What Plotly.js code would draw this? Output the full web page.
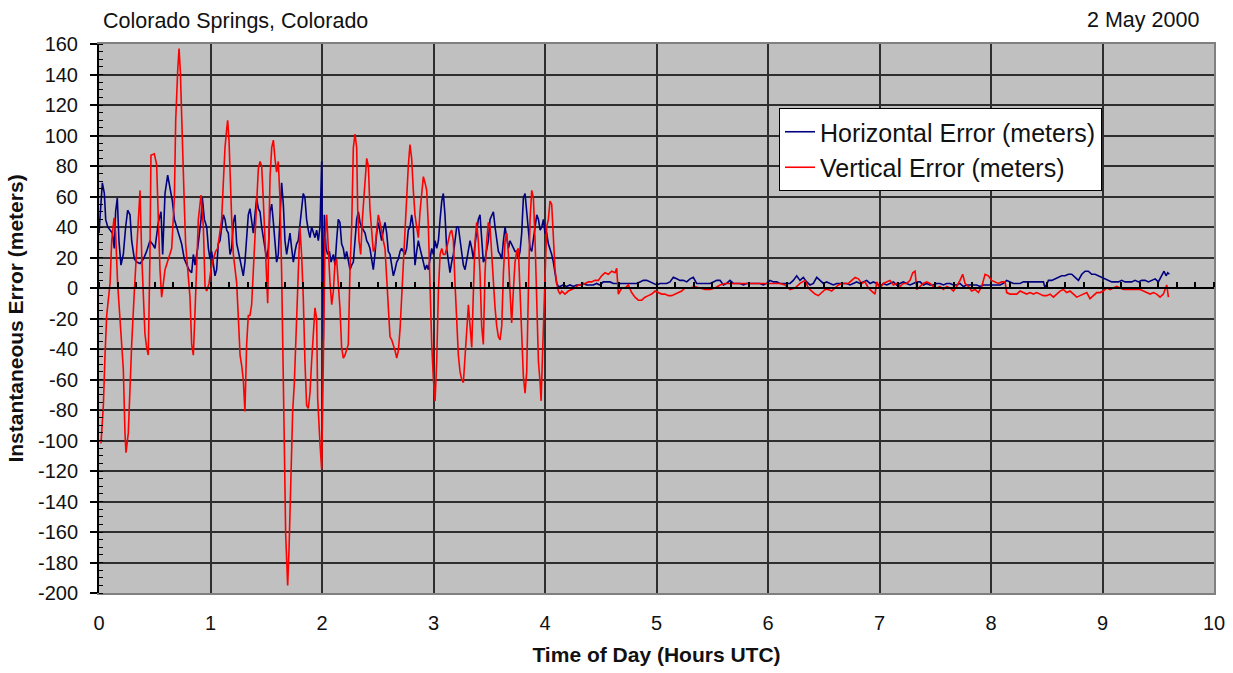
<!DOCTYPE html>
<html>
<head>
<meta charset="utf-8">
<script src="https://cdn.plot.ly/plotly-3.0.1.min.js"></script>
<style>html,body{margin:0;padding:0;background:#fff;}#chart{width:1233px;height:673px;}</style>
</head>
<body>
<div id="chart"></div>
<script>
// Horizontal error (meters) vs time (hours UTC)
const hTime = [0.000,0.030,0.048,0.060,0.078,0.099,0.120,0.137,0.149,0.164,0.179,0.197,0.218,0.239,0.257,0.278,0.293,0.317,0.338,0.368,0.398,0.427,0.457,0.487,0.502,0.532,0.556,0.571,0.592,0.616,0.637,0.658,0.676,0.697,0.718,0.741,0.765,0.786,0.807,0.831,0.846,0.861,0.885,0.915,0.927,0.945,
0.966,0.981,0.996,1.010,1.025,1.040,1.055,1.070,1.085,1.100,1.115,1.130,1.145,1.160,1.175,1.190,1.205,1.220,1.235,1.250,1.265,1.280,1.294,1.309,1.324,1.339,1.354,1.369,1.384,1.399,1.414,1.429,1.444,1.459,1.474,1.489,1.504,1.519,1.534,1.549,1.564,1.578,1.593,1.608,1.623,1.638,1.653,1.668,1.683,1.698,1.713,1.728,1.743,1.758,1.772,1.787,1.802,1.817,1.832,1.847,1.862,1.877,1.892,1.907,1.922,1.937,1.952,1.967,1.982,1.997,
2.012,2.021,2.036,2.051,2.066,2.081,2.102,2.117,2.131,2.146,2.161,2.176,2.191,2.206,2.221,2.236,2.251,2.266,2.281,2.296,2.311,2.326,2.341,2.356,2.371,2.386,2.401,2.416,2.430,2.445,2.460,2.475,2.490,2.505,2.520,2.535,2.550,2.565,2.580,2.595,2.610,2.625,2.640,2.655,2.670,2.685,2.700,2.714,2.729,2.744,2.759,2.774,2.789,2.804,2.819,2.834,2.849,2.864,2.879,2.894,2.909,
2.924,2.939,2.954,2.969,2.984,2.999,3.014,3.029,3.044,3.059,3.074,3.088,3.103,3.118,3.133,3.148,3.163,3.178,3.193,3.208,3.223,3.238,3.253,3.268,3.283,3.298,3.313,3.328,3.343,3.358,3.373,3.387,3.402,3.417,3.432,3.447,3.462,3.477,3.492,3.507,3.522,3.537,3.552,3.567,3.582,3.597,3.612,3.627,3.642,3.657,3.672,3.686,3.701,3.716,3.731,3.746,3.761,3.776,3.791,3.806,3.821,3.836,3.851,3.866,3.881,3.896,3.911,3.926,3.941,3.956,3.971,3.986,4.000,4.015,4.030,4.045,4.060,4.075,4.090,4.105,4.120,
4.134,4.164,4.194,4.224,4.254,4.284,4.314,4.344,4.374,4.404,4.433,4.463,4.493,4.523,4.553,4.583,4.613,4.643,4.673,4.703,4.732,4.762,4.792,4.822,4.852,4.882,4.912,4.942,4.972,5.002,5.031,5.061,5.091,5.121,5.151,5.181,5.211,5.241,5.271,5.301,5.330,5.360,5.390,5.420,5.450,5.480,5.510,5.540,5.570,5.600,5.629,5.659,5.689,5.719,5.749,5.779,5.809,5.839,5.869,5.898,5.928,5.958,5.988,6.018,6.048,6.078,6.108,6.138,6.168,6.197,6.227,6.257,6.287,6.317,6.347,6.377,6.407,6.437,6.467,6.496,6.526,6.556,6.586,6.616,6.646,6.676,6.706,6.736,6.766,6.795,6.825,6.855,6.885,6.915,
6.945,6.975,7.005,7.035,7.065,7.094,7.124,7.154,7.184,7.214,7.244,7.274,7.304,7.334,7.364,7.393,7.423,7.453,7.483,7.513,7.543,7.573,7.603,7.633,7.663,7.692,7.722,7.752,7.782,7.812,7.842,7.871,7.901,7.931,7.961,7.991,8.021,8.051,8.081,8.111,8.141,8.171,8.201,8.231,8.261,8.290,8.320,8.350,8.380,8.410,8.440,8.470,8.485,8.515,8.545,8.574,8.604,8.634,8.664,8.694,8.724,8.754,8.784,8.814,8.844,8.873,8.903,8.933,8.963,8.993,9.023,9.053,9.083,9.113,9.143,9.172,9.202,9.232,9.262,9.292,9.322,9.352,9.382,9.412,9.442,9.472,9.501,9.531,9.552,9.570,9.585,9.600];
const hErr = [36,69,62,45,40,38,36,26,50,59,31,15,22,40,51,48,31,19,17,16,19,24,31,28,26,43,50,22,62,74,64,57,45,40,36,29,19,15,12,10,22,15,26,45,59,45,
40,26,19,24,15,8,12,29,31,40,48,45,38,36,22,26,43,48,29,24,19,12,8,17,31,48,52,45,36,48,59,52,50,40,31,26,19,26,50,55,43,31,17,22,52,69,55,31,22,31,36,26,17,24,29,31,40,50,62,59,45,38,33,40,36,33,38,31,40,83,
-34,48,26,22,24,17,22,15,31,45,43,29,26,19,24,17,12,15,17,31,45,50,43,40,38,36,31,29,26,19,12,22,36,43,38,31,38,43,36,24,22,15,8,12,17,19,24,26,24,22,26,38,40,48,40,15,24,31,26,22,17,
12,15,12,19,26,22,31,26,31,45,57,62,48,26,19,10,17,22,31,40,40,31,22,15,12,19,26,31,26,19,29,36,45,48,31,17,19,26,31,45,48,50,40,31,24,22,19,31,40,33,26,31,29,26,24,24,19,24,36,59,62,50,36,26,24,31,40,48,45,38,40,45,36,36,29,26,22,17,10,3,1,
1,2,1,2,1,2,2,3,2,2,2,3,2,4,4,4,3,3,3,3,3,3,3,3,4,5,5,4,3,2,3,3,3,4,7,6,5,5,4,6,7,3,3,3,3,3,4,5,5,2,3,5,3,3,3,2,3,3,3,3,3,2,3,5,4,4,3,3,3,3,5,8,5,7,4,2,3,7,5,3,4,3,2,3,3,3,3,2,3,4,3,4,5,3,
4,3,1,3,2,3,4,2,3,4,3,2,3,4,4,2,3,2,2,3,3,2,3,3,2,2,3,1,2,2,2,2,1,2,2,2,2,2,2,3,5,4,3,3,3,4,4,4,4,4,4,4,0,5,5,6,7,8,8,9,9,7,5,9,11,11,9,9,8,7,6,5,4,4,4,5,4,4,4,5,4,5,5,4,5,6,4,8,11,8,10,9];

// Vertical error (meters) vs time (hours UTC)
const vTime = [0.018,0.039,0.054,0.069,0.099,0.114,0.135,0.149,0.167,0.188,0.218,0.233,0.242,0.263,0.278,0.293,0.317,0.338,0.353,0.368,0.383,0.398,0.412,0.427,0.442,0.457,0.466,0.496,0.517,0.532,0.547,0.562,0.577,0.592,0.622,0.652,0.676,0.688,0.706,0.718,0.730,0.747,0.765,0.777,0.795,0.816,0.831,0.846,0.861,0.876,0.891,0.915,0.936,0.951,
0.966,0.987,1.004,1.025,1.046,1.064,1.085,1.100,1.115,1.130,1.145,1.154,1.166,1.178,1.190,1.205,1.220,1.235,1.250,1.265,1.280,1.294,1.309,1.324,1.339,1.354,1.369,1.384,1.399,1.414,1.429,1.444,1.459,1.474,1.489,1.504,1.513,1.519,1.534,1.549,1.564,1.578,1.593,1.608,1.623,1.638,1.653,1.662,1.674,1.692,1.704,1.722,1.737,1.752,1.764,1.781,1.802,1.817,1.832,1.847,1.862,1.877,1.892,1.907,1.922,1.937,1.952,
1.961,1.982,1.997,2.012,2.027,2.042,2.057,2.072,2.087,2.102,2.117,2.131,2.146,2.161,2.176,2.191,2.206,2.221,2.236,2.251,2.266,2.281,2.296,2.311,2.320,2.332,2.347,2.362,2.380,2.401,2.416,2.430,2.445,2.460,2.475,2.490,2.505,2.520,2.535,2.550,2.565,2.580,2.595,2.610,2.625,2.640,2.655,2.670,2.685,2.700,2.714,2.729,2.744,2.759,2.774,2.789,2.804,2.819,2.834,2.849,2.864,2.879,2.894,2.909,2.924,
2.939,2.954,2.969,2.984,2.999,3.014,3.029,3.044,3.059,3.074,3.088,3.103,3.118,3.133,3.148,3.163,3.178,3.193,3.208,3.223,3.238,3.253,3.268,3.283,3.298,3.313,3.328,3.343,3.358,3.373,3.387,3.402,3.417,3.432,3.447,3.462,3.477,3.492,3.507,3.522,3.537,3.552,3.567,3.582,3.597,3.612,3.627,3.642,3.657,3.672,3.686,3.701,3.716,3.731,3.746,3.761,3.776,3.791,3.806,3.821,3.836,3.851,3.866,3.881,3.896,3.911,3.926,3.941,3.956,3.965,3.976,3.988,4.000,4.015,4.030,4.045,4.060,4.075,4.090,4.105,4.120,4.135,4.150,
4.179,4.209,4.239,4.269,4.299,4.329,4.359,4.389,4.418,4.448,4.478,4.508,4.538,4.568,4.598,4.628,4.643,4.658,4.688,4.718,4.747,4.777,4.807,4.837,4.867,4.897,4.927,4.957,4.987,5.017,5.046,5.076,5.106,5.136,5.166,5.196,5.226,5.256,5.300,5.345,5.390,5.435,5.480,5.525,5.570,5.614,5.659,5.704,5.749,5.794,5.839,5.884,5.928,5.973,6.018,6.063,6.108,6.153,6.198,6.242,6.287,6.332,6.362,6.392,6.422,6.452,6.482,6.512,6.541,6.571,6.601,6.631,6.661,6.691,6.721,6.751,6.781,6.811,6.841,6.870,6.900,6.930,6.960,
6.975,7.005,7.035,7.065,7.094,7.124,7.154,7.184,7.214,7.244,7.274,7.298,7.319,7.334,7.364,7.393,7.423,7.453,7.483,7.513,7.543,7.573,7.603,7.633,7.663,7.692,7.722,7.746,7.767,7.797,7.827,7.857,7.887,7.917,7.947,7.976,8.006,8.036,8.066,8.096,8.126,8.141,8.171,8.231,8.261,8.290,8.320,8.350,8.380,8.410,8.440,8.470,8.500,8.530,8.560,8.589,8.619,8.649,8.679,8.709,8.739,8.769,8.799,8.829,8.859,8.888,8.918,8.948,8.978,9.008,9.038,9.068,9.098,9.128,9.158,9.187,9.217,9.247,9.277,9.307,9.337,9.367,9.397,9.427,9.457,9.486,9.516,9.546,9.561,9.576,9.591];
const vErr = [-102,-77,-44,-18,3,31,46,36,3,-20,-53,-95,-108,-95,-62,-37,-2,26,52,64,22,-6,-30,-39,-44,22,87,88,81,45,12,-6,3,12,19,26,59,110,143,157,141,92,55,29,15,-6,-37,-44,-16,17,45,61,40,1,
-2,3,12,19,24,26,36,45,69,92,104,110,97,69,45,22,12,3,-20,-44,-51,-60,-81,-37,-18,-18,-11,10,40,59,78,83,80,57,26,-2,-10,17,73,92,97,85,76,83,59,10,-48,-102,-161,-195,-172,-114,-81,-62,-37,-2,40,22,-6,-48,-77,-79,-69,-48,-32,-13,-20,
-72,-102,-119,-48,31,48,22,3,-11,-2,17,19,3,-13,-39,-46,-44,-41,-37,12,40,92,101,92,52,31,22,45,62,85,80,52,38,24,26,36,48,43,36,31,26,8,-16,-32,-34,-37,-41,-46,-41,-27,-6,17,31,57,80,94,85,64,48,40,33,50,64,73,69,
64,40,-2,-37,-60,-74,-48,-2,22,26,22,22,26,31,36,38,31,3,-25,-44,-55,-60,-62,-44,-30,-11,-25,-39,-2,31,43,31,10,-25,-37,10,31,43,40,22,-2,-13,-25,-32,-34,-25,10,31,36,22,-2,-23,-2,17,24,26,-2,-37,-58,-69,-55,-2,45,64,59,31,-2,-48,-62,-74,-48,-20,10,40,45,57,55,31,12,3,-2,-4,-2,
-4,-2,-1,0,2,2,3,4,4,5,5,8,10,9,11,10,13,-4,0,0,2,-3,-6,-8,-8,-6,-5,-4,-2,-3,-4,-4,-5,-5,-4,-3,-2,0,0,1,0,-1,-1,0,2,3,3,3,3,3,3,3,3,3,3,3,3,2,-1,0,3,5,0,-2,-4,-5,-3,-1,-1,-2,0,2,3,3,3,5,7,6,3,4,0,-2,-4,
4,0,3,4,5,2,3,1,3,3,5,10,11,-1,1,3,4,3,1,0,1,-1,1,0,-2,1,5,9,3,1,-2,-1,-3,1,9,8,5,4,3,4,4,-3,-4,-4,-2,-3,-4,-3,-4,-3,-4,-5,-5,-4,-6,-4,-2,-1,-3,-2,-4,-6,-5,-4,-3,-7,-5,-3,-3,-2,0,-1,0,1,0,-1,-1,-1,-1,-1,-1,-2,-3,-4,-3,-4,-6,-4,-1,2,-6];

const xTicks = [0,1,2,3,4,5,6,7,8,9,10];
const yTicks = [160,140,120,100,80,60,40,20,0,-20,-40,-60,-80,-100,-120,-140,-160,-180,-200];

const FONT = '"Liberation Sans", Arial, sans-serif';
const TXT = '#111';
const GRID = '#2e2e2e';

const traces = [
  {x: hTime, y: hErr, type: 'scatter', mode: 'lines', name: 'Horizontal Error (meters)',
   line: {color: '#000080', width: 1.6}, xaxis: 'x', yaxis: 'y', legendgroup: 'h'},
  {x: vTime, y: vErr, type: 'scatter', mode: 'lines', name: 'Vertical Error (meters)',
   line: {color: '#ff0000', width: 1.6}, xaxis: 'x2', yaxis: 'y2', legendgroup: 'v'}
];

const layout = {
  width: 1233, height: 673,
  margin: {l: 99, r: 19, t: 44, b: 80, pad: 0},
  paper_bgcolor: '#ffffff',
  plot_bgcolor: '#c0c0c0',
  font: {family: FONT, size: 20, color: TXT},
  showlegend: true,
  title: {text: 'Colorado Springs, Colorado', xref: 'container', x: 103/1233, xanchor: 'left',
          yref: 'container', y: 1 - 20/673, yanchor: 'middle', font: {family: FONT, size: 21.5, color: TXT}},
  annotations: [{text: '2 May 2000', xref: 'paper', yref: 'paper', x: (1201-99)/1115, y: (593-20)/549,
                 xanchor: 'right', yanchor: 'middle', showarrow: false, font: {family: FONT, size: 21.5, color: TXT}}],
  xaxis: {
    range: [0, 10], tickvals: xTicks, ticktext: xTicks.map(String), showgrid: true, gridcolor: GRID, gridwidth: 2,
    zeroline: false, showline: true, linecolor: '#808080', linewidth: 2, mirror: true, ticks: '',
    ticklabelstandoff: 11, tickfont: {family: FONT, size: 20, color: TXT},
    title: {text: 'Time of Day (Hours UTC)', standoff: 14, font: {family: FONT, size: 21, color: TXT, weight: 'bold'}},
    fixedrange: true
  },
  yaxis: {
    range: [-200, 160], tickvals: yTicks, ticktext: yTicks.map(String), showgrid: true, gridcolor: GRID, gridwidth: 2,
    zeroline: false, showline: true, linecolor: '#000', linewidth: 2, ticks: 'outside', ticklen: 7, tickwidth: 2, tickcolor: '#000',
    minor: {dtick: 5, tick0: 0, ticks: 'inside', ticklen: 4, tickwidth: 1, tickcolor: '#000', showgrid: false},
    ticklabelstandoff: 8, tickfont: {family: FONT, size: 20, color: TXT},
    title: {text: 'Instantaneous Error (meters)', standoff: 9, font: {family: FONT, size: 21, color: TXT, weight: 'bold'}},
    fixedrange: true
  },
  xaxis2: {
    overlaying: 'x', anchor: 'free', position: 200/360, side: 'top', range: [0, 10],
    showgrid: false, zeroline: false, showline: true, linecolor: '#000', linewidth: 2,
    ticks: 'outside', tick0: 0, dtick: 1, ticklen: 5, tickwidth: 2, tickcolor: '#000', showticklabels: false,
    minor: {dtick: 1/6, tick0: 0, ticks: 'outside', ticklen: 5, tickwidth: 2, tickcolor: '#000', showgrid: false},
    fixedrange: true
  },
  yaxis2: {
    overlaying: 'y', anchor: 'x', side: 'right', range: [-200, 160],
    showgrid: false, zeroline: false, showline: true, linecolor: '#808080', linewidth: 2,
    ticks: '', showticklabels: false, fixedrange: true
  },
  legend: {
    x: (779-99)/1115, xanchor: 'left', y: (593-108)/549, yanchor: 'top',
    bgcolor: '#ffffff', bordercolor: '#000', borderwidth: 1,
    font: {family: FONT, size: 25, color: TXT}, traceorder: 'grouped', tracegroupgap: 0
  }
};

Plotly.newPlot('chart', traces, layout, {displayModeBar: false, staticPlot: true});
</script>
</body>
</html>
